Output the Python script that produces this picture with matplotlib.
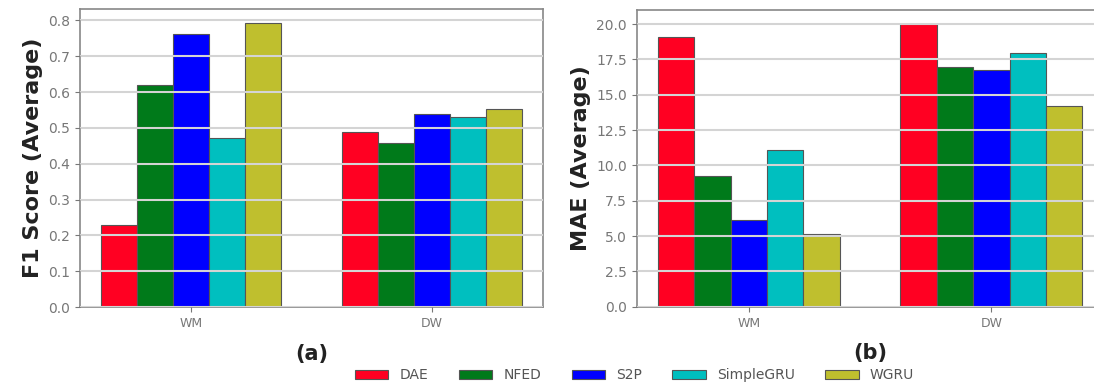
import matplotlib
matplotlib.use("Agg")
import matplotlib.pyplot as plt
import numpy as np

categories = ["WM", "DW"]
models = ["DAE", "NFED", "S2P", "SimpleGRU", "WGRU"]
colors = ["#ff0022", "#007a1a", "#0000ff", "#00bfbf", "#bfbf2e"]

f1_scores = {
    "DAE": [0.228, 0.488],
    "NFED": [0.619, 0.458],
    "S2P": [0.762, 0.539],
    "SimpleGRU": [0.473, 0.531],
    "WGRU": [0.792, 0.552],
}
mae_scores = {
    "DAE": [19.1, 20.0],
    "NFED": [9.27, 16.95],
    "S2P": [6.13, 16.75],
    "SimpleGRU": [11.1, 17.93],
    "WGRU": [5.12, 14.2],
}

fig = plt.figure(figsize=(10.94, 3.83), dpi=100)
ax1 = fig.add_axes([0.0731, 0.1984, 0.4232, 0.778])
ax2 = fig.add_axes([0.582, 0.199, 0.4267, 0.775])

x = np.arange(len(categories))
w = 0.15
grey = "#777777"

def draw(ax, data, ylabel, xlabel):
    for i, m in enumerate(models):
        ax.bar(x + (i - 2) * w, data[m], w, color=colors[i], edgecolor="#555555",
               linewidth=0.8, label=m, zorder=1)
    ax.set_xticks(x)
    ax.set_xticklabels(categories)
    ax.grid(axis="y", color="#d4d4d4", linewidth=1.5, zorder=2)
    ax.set_axisbelow(False)
    ax.set_ylabel(ylabel, fontsize=16, fontweight="bold", color="#222222")
    ax.set_xlabel(xlabel, fontsize=15, fontweight="bold", color="#222222", labelpad=10)
    ax.tick_params(axis="both", colors=grey, labelsize=10, labelcolor=grey)
    ax.tick_params(axis="x", labelsize=9)
    for s in ax.spines.values():
        s.set_color("#888888")
        s.set_linewidth(1.2)

draw(ax1, f1_scores, "F1 Score (Average)", "(a)")
draw(ax2, mae_scores, "MAE (Average)", "(b)")
ax1.set_yticks(np.arange(0, 0.81, 0.1))
ax2.set_yticks(np.arange(0, 20.1, 2.5))

h, l = ax1.get_legend_handles_labels()
leg = fig.legend(h, l, ncol=5, loc="center", bbox_to_anchor=(0.58, 0.02),
                 frameon=False, fontsize=10, handlelength=2.4, handleheight=0.6,
                 columnspacing=2.2)
for t in leg.get_texts():
    t.set_color("#555555")

fig.savefig("out.png", dpi=100)
